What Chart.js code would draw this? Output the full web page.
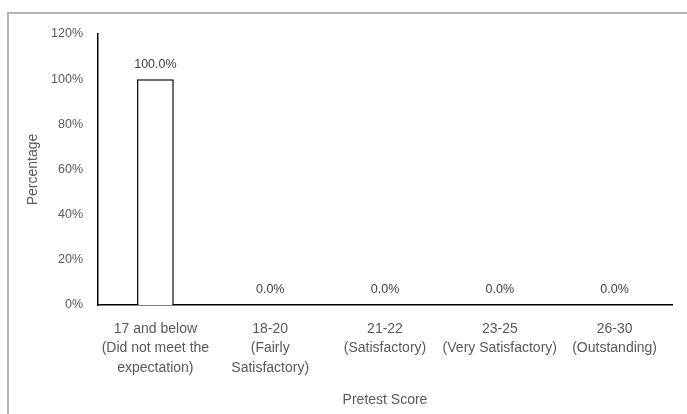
<!DOCTYPE html>
<html lang="en">
<head>
    <meta charset="UTF-8">
    <title>Pretest Score</title>
    <script src="https://cdn.jsdelivr.net/npm/chart.js"></script>
    <style>
      html, body {
        margin: 0;
        padding: 0;
        background: #fff;
      }
      .wrap {
        position: relative;
        width: 687px;
        height: 414px;
        overflow: hidden;
      }
      .frame {
        position: absolute;
        left: 7px;
        top: 12px;
        width: 700px;
        height: 420px;
        border: 2px solid #b4b4b4;
        box-sizing: border-box;
      }
      canvas {
        position: absolute;
        left: 0;
        top: 0;
      }
    </style>
</head>
<body>
  <div class="wrap">
    <div class="frame"></div>
    <canvas id="myChart" width="687" height="414"></canvas>
  </div>
<script>
  // chart data
  let categories = [
    ['17 and below', '(Did not meet the', 'expectation)'],
    ['18-20', '(Fairly', 'Satisfactory)'],
    ['21-22', '(Satisfactory)'],
    ['23-25', '(Very Satisfactory)'],
    ['26-30', '(Outstanding)']
  ];
  let percentages = [100, 0, 0, 0, 0];
  let yTicks = [0, 20, 40, 60, 80, 100, 120];

  let textColor = '#595959';
  let family = "'Liberation Sans', Arial, sans-serif";

  // draws the value labels above each bar
  const valueLabels = {
    id: 'valueLabels',
    afterDatasetsDraw(chart) {
      let ctx = chart.ctx;
      let meta = chart.getDatasetMeta(0);
      ctx.save();
      ctx.font = '12.5px ' + family;
      ctx.fillStyle = '#404040';
      ctx.textAlign = 'center';
      ctx.textBaseline = 'middle';
      meta.data.forEach((bar, i) => {
        ctx.fillText(percentages[i].toFixed(1) + '%', bar.x, bar.y - 15);
      });
      ctx.restore();
    }
  };

  let ctx = document.getElementById('myChart').getContext('2d');
  new Chart(ctx, {
    type: 'bar',
    data: {
      labels: categories,
      datasets: [{
        label: 'Percentage',
        data: percentages,
        backgroundColor: '#ffffff',
        borderColor: '#000000',
        borderWidth: 1.5,
        barPercentage: 0.64,
        categoryPercentage: 0.5
      }]
    },
    options: {
      responsive: false,
      animation: false,
      layout: {
        padding: { top: 34, right: 15, left: 0, bottom: 4 }
      },
      plugins: {
        legend: { display: false },
        tooltip: { enabled: false }
      },
      scales: {
        x: {
          grid: { display: false, drawTicks: false },
          border: { display: true, color: '#000000', width: 1.5 },
          ticks: {
            color: textColor,
            font: { family: family, size: 14, lineHeight: 1.4 },
            padding: 14,
            maxRotation: 0,
            autoSkip: false
          },
          title: {
            display: true,
            text: 'Pretest Score',
            color: textColor,
            font: { family: family, size: 14 },
            padding: { top: 10, bottom: 1 }
          },
          afterFit(scale) {
            scale.height = 105;
          }
        },
        y: {
          min: 0,
          max: 120,
          afterBuildTicks(scale) {
            scale.ticks = yTicks.map(v => ({ value: v }));
          },
          grid: { display: false, drawTicks: false },
          border: { display: true, color: '#000000', width: 1.5 },
          ticks: {
            color: textColor,
            font: { family: family, size: 12.5 },
            padding: 15,
            callback: v => v + '%'
          },
          title: {
            display: true,
            text: 'Percentage',
            color: textColor,
            font: { family: family, size: 14 },
            padding: { top: 25, bottom: 0 }
          },
          afterFit(scale) {
            scale.width = 98;
          }
        }
      }
    },
    plugins: [valueLabels]
  });
</script>
</body>
</html>
